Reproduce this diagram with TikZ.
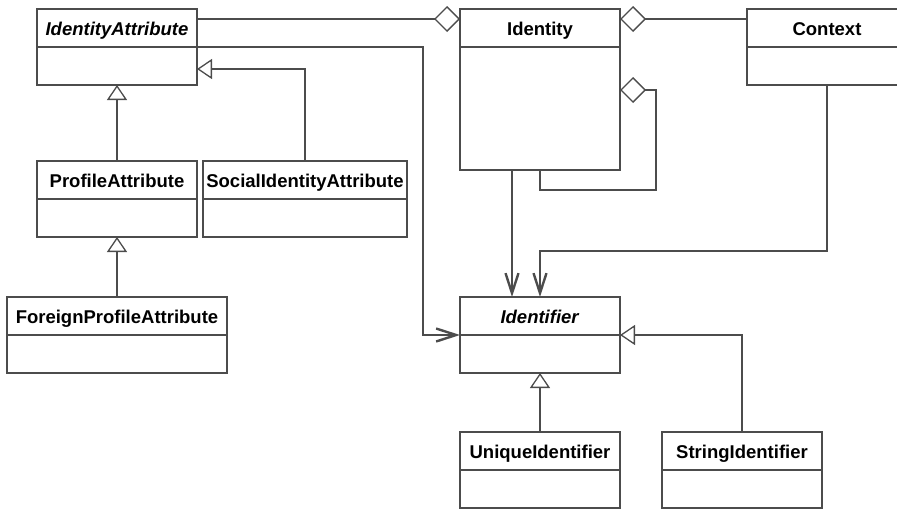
\documentclass[tikz,border=0pt]{standalone}
\usepackage{fontspec}
\setmainfont{Liberation Sans}
\usepackage{tikz}
\usetikzlibrary{arrows.meta, positioning, calc}

\begin{document}
\begin{tikzpicture}[
			x=1pt, y=-1pt,
			line width=1.3pt,
			head/.style={draw=black!70, rectangle, outer sep=0pt, minimum height=38pt, minimum width=160pt, inner sep=0pt, text height=15pt, text depth=0pt, anchor=north west, font=\fontsize{18.5}{22}\selectfont\bfseries},
			body/.style={draw=black!70, rectangle, outer sep=0pt, minimum height=38pt, minimum width=160pt, inner sep=0pt, below=0pt of #1},
			aggr/.style={draw=black!70, -{Diamond[open, fill=white, length=26pt, width=26pt, line width=1.3pt]}},
			gen/.style={draw=black!70, -{Triangle[open, fill=white, length=15pt, width=20pt, line width=1.3pt]}},
			nav/.style={draw=black!70, -{Straight Barb[length=20pt, width=13pt, line width=2.4pt]}}
			]
			\useasboundingbox (0,0) rectangle (897,509);
			\clip (0,0) rectangle (897,509);
			
			% --- Klasy (nagłówek + ciało) ---
			\node[head] (iah) at (37,9) {\textit{IdentityAttribute}};
			\node[body=iah] (iab) {};
			\node[head] (idh) at (460,9) {Identity};
			\node[body=idh, minimum height=123pt] (idb) {};
			\node[head] (ctxh) at (747,9) {Context};
			\node[body=ctxh] (ctxb) {};
			\node[head] (pah) at (37,161) {ProfileAttribute};
			\node[body=pah] (pab) {};
			\node[head, minimum width=204pt] (siah) at (203,161) {SocialIdentityAttribute};
			\node[body=siah, minimum width=204pt] (siab) {};
			\node[head, minimum width=220pt] (fpah) at (7,297) {ForeignProfileAttribute};
			\node[body=fpah, minimum width=220pt] (fpab) {};
			\node[head] (ifh) at (460,297) {\textit{Identifier}};
			\node[body=ifh] (ifb) {};
			\node[head] (uih) at (460,432) {UniqueIdentifier};
			\node[body=uih] (uib) {};
			\node[head] (sih) at (662,432) {StringIdentifier};
			\node[body=sih] (sib) {};
			
			% --- Agregacje ---
			\draw[aggr] ([yshift=-10pt]iah.north east) -- ([yshift=-10pt]idh.north west);
			\draw[aggr] ([yshift=-10pt]ctxh.north west) -- ([yshift=-10pt]idh.north east);
			\draw[aggr] ([xshift=80pt]idb.south west) -- ++(0,20) -| ([xshift=36pt, yshift=-81pt]idh.north east) -- ([yshift=-81pt]idh.north east);
			
			% --- Asocjacje skierowane ---
			\draw[nav] ([xshift=52pt]idb.south west) -- ([xshift=52pt]ifh.north west);
			\draw[nav] (ctxb.south) |- ([xshift=80pt, yshift=46pt]ifh.north west) -- ([xshift=80pt]ifh.north west);
			\draw[nav] (iah.south east) -| ([xshift=-37pt]ifh.south west) -- (ifh.south west);
			
			% --- Dziedziczenie ---
			\draw[gen] (siah.north) |- ([yshift=-22pt]iab.north east);
			\draw[gen] (pah.north) -- (iab.south);
			\draw[gen] (fpah.north) -- (pab.south);
			\draw[gen] (uih.north) -- (ifb.south);
			\draw[gen] (sih.north) |- (ifh.south east);
			
		\end{tikzpicture}
\end{document}
